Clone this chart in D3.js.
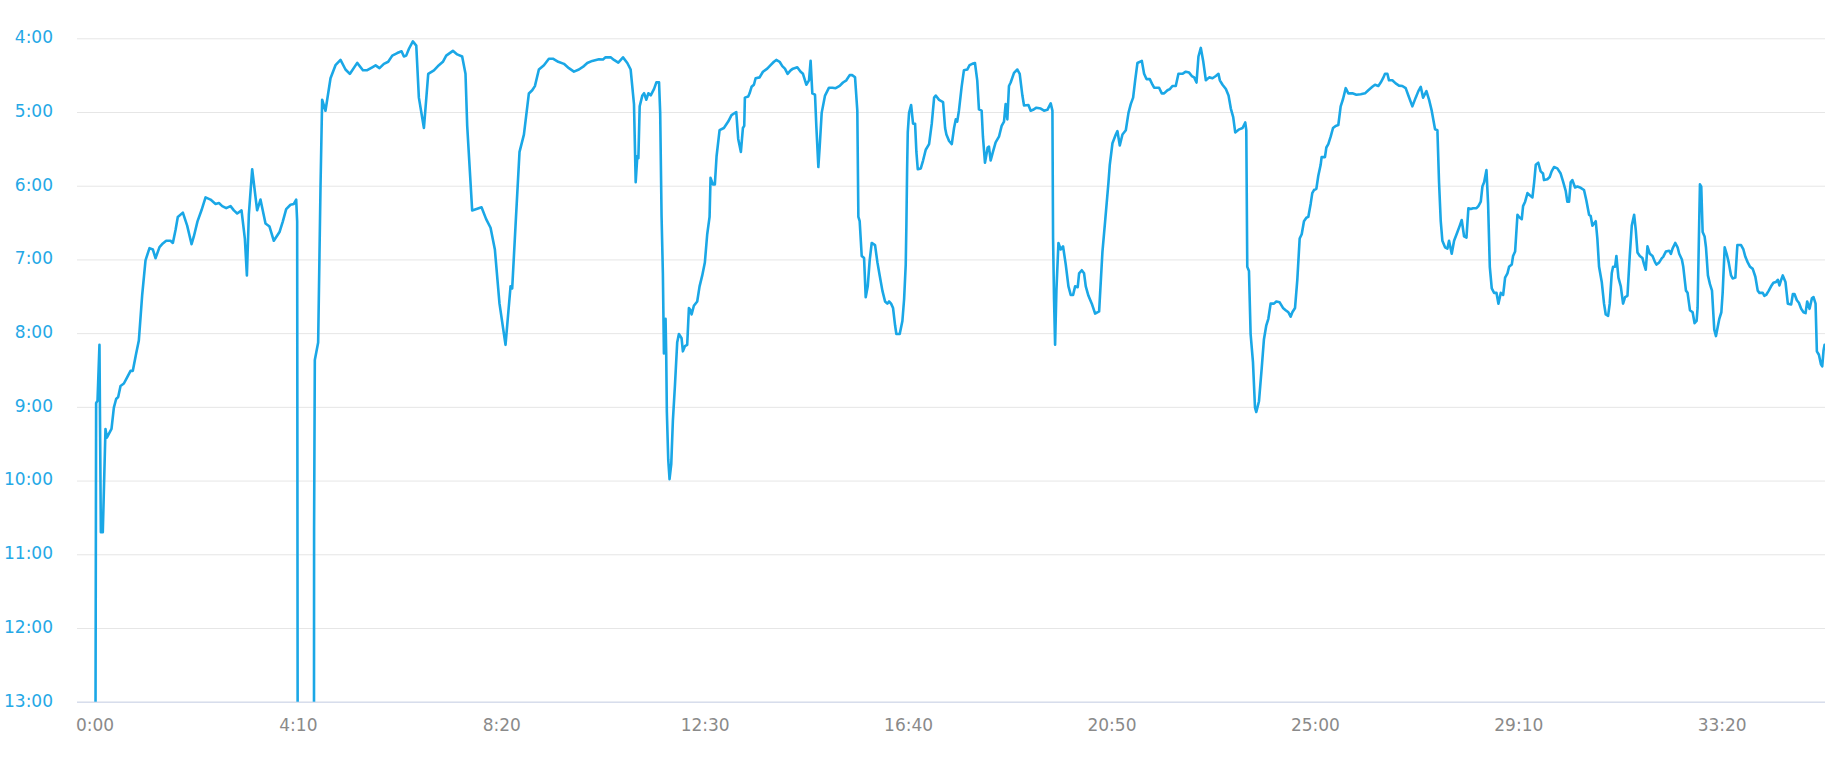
<!DOCTYPE html>
<html lang="en">
<head>
  <meta charset="UTF-8">
  <title>Pace</title>
  <script src="https://d3js.org/d3.v7.min.js"></script>
  <style>
    body {
      margin: 0;
      background: #fff;
    }
    svg text { font-family: "DejaVu Sans", Verdana, sans-serif; }
    .grid line { stroke: #e6e6e6; stroke-width: 1px; }
    .grid .domain { display: none; }
    .ylab text { fill: #25a8e6; font-size: 17px; }
    .xlab text { fill: #8a8a8a; font-size: 17px; }
    .xlab .domain { stroke: #ccd6eb; }
    .pace-line { fill: none; stroke: #1aa7e6; stroke-width: 2.6px; stroke-linejoin: round; }
  </style>
</head>
<body>
<div id="chart"></div>
<script>
  // elapsed time (s) and pace (s per km); 1200 = off the bottom of the chart
  const elapsed = [
    0, 2.0, 3.7, 6.1, 7.8, 10.2, 13.5, 15.2, 20.9, 23.8, 26.6, 29.1, 32.0, 36.1, 40.1, 44.3, 47.1, 51.2, 54.5, 58.6,
    62.7, 67.6, 71.7, 75.0, 79.9, 84.0, 88.1, 93.4, 96.3, 99.6, 102.4, 108.6, 113.9, 119.3, 122.1, 126.6, 131.5, 136.5, 142.6, 148.8,
    152.9, 157.0, 161.9, 167.2, 171.3, 175.4, 180.7, 184.8, 187.3, 189.7, 193.8, 199.9, 204.0, 210.2, 215.1, 220.4, 227.4, 231.5, 235.6, 240.9,
    245.0, 247.9, 249.1, 250.3, 269.5, 269.9, 270.8, 274.9, 277.8, 279.8, 283.9, 290.1, 296.2, 302.4, 308.5, 313.8, 322.9, 329.9, 335.2, 341.4,
    345.5, 350.3, 355.7, 361.0, 366.0, 372.1, 377.4, 380.3, 383.1, 386.5, 391.3, 395.5, 398.7, 404.9, 410.2, 417.2, 423.3, 428.2, 432.3, 440.5,
    445.8, 451.9, 456.0, 458.1, 464.2, 475.7, 481.4, 486.8, 492.1, 497.8, 505.2, 511.4, 513.4, 517.5, 522.4, 527.8, 533.9, 538.0, 541.3, 546.2,
    552.4, 558.5, 563.4, 570.0, 577.0, 583.1, 589.3, 595.4, 601.6, 605.7, 611.8, 620.0, 625.0, 628.2, 634.4, 638.5, 643.8, 649.6, 654.9, 659.0,
    663.1, 665.2, 667.2, 668.5, 670.1, 673.4, 675.5, 678.3, 680.8, 683.7, 687.8, 690.6, 693.9, 695.3, 697.0, 698.6, 699.9, 701.9, 702.7, 703.5,
    705.2, 706.8, 708.9, 710.9, 713.4, 716.2, 718.3, 721.6, 723.2, 725.7, 728.5, 730.6, 732.6, 733.9, 736.7, 740.8, 743.7, 747.0, 750.2, 753.1,
    756.0, 757.2, 760.1, 762.5, 764.6, 768.3, 773.6, 778.9, 783.0, 788.8, 791.2, 794.5, 797.0, 798.6, 799.4, 803.5, 805.2, 807.6, 810.5, 812.6,
    817.5, 821.6, 826.9, 831.0, 835.1, 838.0, 842.1, 845.4, 848.6, 851.9, 855.6, 858.5, 863.8, 867.9, 870.8, 874.9, 878.2, 880.2, 882.3, 885.6,
    887.2, 889.7, 891.3, 893.8, 897.9, 902.8, 906.9, 911.0, 915.9, 920.0, 924.1, 928.2, 931.5, 934.8, 937.6, 938.9, 940.5, 943.0, 945.9, 947.9,
    950.4, 952.8, 955.3, 959.4, 962.3, 965.1, 968.4, 971.7, 974.5, 976.6, 979.1, 981.5, 984.0, 985.6, 989.7, 993.0, 995.1, 997.1, 997.9, 998.8,
    999.6, 1001.2, 1003.7, 1006.1, 1008.6, 1010.2, 1011.9, 1015.6, 1018.4, 1021.7, 1025.8, 1029.1, 1032.0, 1034.0, 1038.1, 1043.0, 1045.5, 1047.1, 1050.4, 1053.7,
    1056.5, 1058.6, 1060.4, 1062.5, 1065.8, 1068.6, 1072.7, 1075.6, 1078.9, 1082.2, 1085.0, 1087.1, 1090.4, 1092.0, 1094.5, 1097.8, 1099.4, 1101.5, 1104.3, 1107.6,
    1111.7, 1115.0, 1117.9, 1119.9, 1122.0, 1124.0, 1126.1, 1130.2, 1134.3, 1137.2, 1140.5, 1142.5, 1147.9, 1150.7, 1153.6, 1157.7, 1163.0, 1167.1, 1171.2, 1175.3,
    1177.4, 1178.2, 1179.4, 1180.7, 1182.3, 1184.8, 1187.6, 1190.5, 1193.8, 1197.1, 1199.9, 1202.8, 1205.3, 1208.5, 1210.2, 1213.5, 1216.3, 1218.4, 1221.7, 1225.8,
    1229.9, 1234.8, 1238.9, 1242.2, 1246.3, 1247.9, 1251.2, 1255.3, 1257.3, 1260.2, 1263.5, 1267.6, 1270.9, 1273.7, 1276.6, 1279.1, 1281.9, 1287.3, 1290.1, 1293.0,
    1297.1, 1300.4, 1302.4, 1308.5, 1311.8, 1314.7, 1318.8, 1321.7, 1324.9, 1329.0, 1332.3, 1337.2, 1341.3, 1345.4, 1348.7, 1351.6, 1354.5, 1356.9, 1359.8, 1362.7,
    1366.0, 1370.1, 1374.2, 1378.3, 1381.5, 1383.2, 1386.5, 1390.6, 1393.9, 1396.7, 1399.6, 1402.1, 1407.0, 1411.1, 1414.4, 1415.7, 1416.9, 1419.0, 1421.0, 1423.9,
    1426.4, 1428.0, 1431.3, 1434.6, 1437.4, 1440.3, 1442.8, 1445.6, 1449.7, 1452.6, 1456.7, 1460.8, 1464.1, 1467.4, 1470.2, 1472.3, 1475.6, 1478.4, 1481.3, 1483.8,
    1486.6, 1489.5, 1491.9, 1494.8, 1496.8, 1498.9, 1501.8, 1504.2, 1507.1, 1508.3, 1512.4, 1514.1, 1516.5, 1519.4, 1522.3, 1525.5, 1528.8, 1531.7, 1534.6, 1537.9,
    1541.1, 1546.1, 1551.0, 1556.3, 1561.6, 1565.7, 1570.6, 1573.9, 1578.0, 1580.9, 1583.8, 1586.2, 1589.1, 1591.1, 1595.2, 1599.3, 1603.4, 1607.5, 1611.6, 1614.9,
    1619.8, 1623.9, 1627.2, 1630.1, 1633.0, 1637.1, 1640.4, 1643.6, 1647.7, 1650.6, 1652.6, 1654.7, 1656.7, 1660.0, 1662.9, 1664.9, 1668.2, 1671.1, 1675.2, 1678.1,
    1680.5, 1683.4, 1686.3, 1688.7, 1691.6, 1694.5, 1698.6, 1701.0, 1703.9, 1705.9, 1708.0, 1710.9, 1712.9, 1715.0, 1717.4, 1720.3, 1723.2, 1725.6, 1728.5, 1731.4,
    1733.8, 1736.7, 1738.7, 1742.0, 1743.6, 1746.1, 1749.0, 1751.0, 1754.3, 1755.9, 1758.4, 1761.3, 1764.1, 1767.4, 1769.5, 1771.5, 1774.6, 1777.5, 1780.4, 1781.6,
    1785.7, 1788.6, 1791.0, 1793.9, 1798.0, 1802.1, 1805.0, 1808.3, 1810.3, 1812.4, 1814.4, 1816.5, 1819.8, 1822.6, 1826.7, 1830.8, 1833.7, 1837.0, 1839.0, 1841.1,
    1843.1, 1845.2, 1847.2, 1849.3, 1852.6, 1855.4, 1857.5, 1860.4, 1862.4, 1864.9, 1866.5, 1869.0, 1870.6, 1873.1, 1876.0, 1878.8, 1881.3, 1884.2, 1887.0, 1889.5,
    1892.4, 1894.4, 1896.5, 1899.4, 1902.6, 1904.7, 1906.7, 1908.8, 1911.7, 1915.0, 1918.2, 1919.9, 1923.2, 1926.5, 1928.1, 1931.4, 1935.5, 1937.6, 1939.6, 1942.9,
    1945.8, 1947.8, 1951.1, 1952.8, 1956.1, 1958.1, 1961.0, 1964.3, 1966.7, 1969.2, 1970.4, 1972.5, 1973.3, 1974.9, 1976.6, 1979.0, 1980.7, 1983.1, 1985.6, 1988.1,
    1990.9, 1993.0, 1995.0, 1997.1, 1999.6, 2001.2, 2003.7, 2006.1, 2008.6, 2011.5, 2013.5, 2016.8, 2019.3, 2023.8, 2026.7, 2029.1, 2032.0, 2034.9, 2038.2, 2041.4,
    2044.3, 2046.4, 2050.5, 2052.5, 2054.6, 2057.9, 2060.7, 2063.6, 2066.9, 2069.0, 2071.0, 2073.1, 2075.1, 2078.4, 2081.3, 2085.4, 2087.5, 2089.5, 2092.4, 2094.9,
    2097.7, 2100.6, 2103.1, 2105.1, 2108.0, 2110.9, 2112.9, 2115.4, 2117.0, 2119.5, 2122.0, 2123.6, 2125.2, 2126.5, 2128.5
  ];
  const pace = [
    1200, 537, 535, 489.5, 642, 642, 558, 565, 558, 540.6, 533.6, 532, 523, 521, 516, 510.7, 510.7, 496.6, 486, 449,
    420.7, 410.8, 411.9, 419, 410, 407, 404.8, 404.8, 406.6, 396, 385.4, 381.9, 392.5, 407.6, 401.3, 389, 380, 369.5, 371.3, 374.8,
    374.1, 376.6, 378.3, 376.6, 380.1, 382.6, 380.1, 403, 433, 383.6, 346.6, 380, 371.3, 390.7, 393.2, 404.8, 397.7, 389, 379, 375.5,
    374.8, 371.3, 389, 1200, 1200, 639.5, 501.8, 487.7, 360.7, 290, 299, 272.5, 261.9, 257.6, 265.4, 269, 260, 266, 266, 263.6,
    262, 264.3, 260.8, 259.1, 254.1, 252, 250.6, 254.8, 254.1, 248.5, 242.5, 246, 288.3, 313, 269, 266.1, 261.9, 259.1, 254.1, 250.2,
    253.1, 254.8, 268.8, 311.3, 380.1, 377.6, 387.2, 394.2, 411.9, 456, 489.5, 441.8, 443.6, 392.5, 332.5, 318.4, 284.9, 282.3, 278.9, 265.4,
    261.9, 256.6, 256.6, 259.1, 260.8, 264.3, 267.1, 265.4, 262.6, 260.1, 258.4, 257, 257.3, 255.5, 255.5, 257.6, 259.8, 255.5, 260.1, 265.4,
    293.6, 357.1, 335.9, 337.6, 295.3, 286.5, 284.7, 290, 284.7, 286.5, 281.2, 275.9, 275.9, 300.7, 385, 431.3, 496.6, 468.3, 496.6, 544.2,
    583, 598.9, 586.5, 551.3, 523, 487.7, 480.7, 484.2, 494.8, 490.6, 489.5, 459.5, 461.3, 464.8, 457.7, 454.2, 441.9, 433, 422.5, 399.5,
    385.4, 353.6, 358.9, 358.9, 336, 314.8, 313, 307.8, 302.5, 300, 321.9, 332.5, 313, 311.3, 288.3, 287.3, 284.8, 279.5, 277.8, 272.5,
    271.8, 267.2, 264.7, 261.9, 259.1, 257.6, 259.1, 262.6, 264.7, 268.9, 266.1, 264.7, 263.6, 267.2, 268.9, 277.8, 274.2, 258.4, 284.8, 285.9,
    311.3, 344.8, 328.9, 300.7, 286.6, 280.2, 280.2, 280.6, 278.8, 276, 274.2, 270, 270, 271.8, 298.9, 385.4, 388.9, 417.2, 418.9, 450.7,
    441.9, 420.7, 406.6, 408.3, 422.4, 433, 445.4, 454.2, 456, 454.2, 456, 459.5, 473.6, 480.7, 480.7, 470.1, 452.4, 424.2, 392.5, 346.6,
    316.6, 300.7, 294.3, 309.5, 309.5, 332.5, 346.6, 345.9, 339.5, 330.7, 326.1, 309.5, 288.3, 286.6, 290.1, 291.9, 313, 318.3, 323.6, 326.1,
    313, 306, 307.8, 298.9, 279.5, 266.1, 265.4, 261.9, 260.8, 260.1, 274.2, 297.9, 298.9, 320.1, 341.3, 328.9, 328.2, 339.5, 332.5, 324.7,
    320.1, 311.3, 307.8, 293.6, 306, 278.8, 276, 268.2, 265.4, 268.9, 286.6, 294.7, 294.3, 298.9, 298.2, 296.5, 297.2, 298.9, 298.2, 292.9,
    298.9, 403, 452.4, 489.5, 445.4, 406.6, 411.9, 409.4, 424.2, 441.9, 448.9, 448.9, 441.9, 442.6, 431.3, 428.8, 431.3, 441.9, 449.6, 456,
    464.1, 462.3, 413.6, 388.9, 357.2, 343, 325.4, 318.3, 315.5, 327.2, 318.3, 314.8, 300.7, 293.6, 288.3, 274.2, 260.1, 258.4, 268.9, 273.2,
    273.2, 277.8, 280.2, 280.2, 284.8, 284.8, 282.3, 281.3, 278.8, 278.8, 268.9, 268.9, 267.2, 267.9, 270.7, 271.8, 276, 254.8, 247.8, 258.4,
    274.2, 271.8, 272.5, 270.7, 268.9, 274.2, 277.8, 281.3, 286.6, 297.2, 304.2, 316.6, 314.1, 313, 308.5, 314.8, 426, 429.5, 480.7, 503.6,
    540.7, 544.2, 535.4, 508.9, 484.9, 473.6, 468.3, 456, 456, 454.2, 454.9, 459.5, 461.3, 463, 466.6, 463, 459.5, 436.6, 403, 399.5,
    388.9, 386.1, 385.4, 374.8, 366, 363.5, 362.5, 351.9, 343, 336.7, 336.7, 328.9, 326.1, 320.1, 313, 311.3, 310.6, 295.4, 289.4, 280.6,
    284.8, 284.8, 285.9, 285.5, 284.8, 282.3, 279.5, 277.8, 278.8, 276, 272.5, 268.9, 268.9, 274.2, 274.2, 276.7, 278.5, 278.8, 280.6, 286.6,
    295.4, 288.3, 283, 279.5, 288.3, 283, 290.1, 298.9, 314.1, 314.8, 357.2, 388.9, 404.8, 410.1, 411.2, 404.8, 415.4, 404.8, 397.7, 392.5,
    387.9, 401.3, 402.3, 378.3, 379, 378.3, 378.3, 376.6, 373, 360.7, 357.2, 347.3, 374.8, 426, 443.6, 447.2, 447.2, 456, 447.2, 448.9,
    434.8, 431.3, 426, 424.2, 417.2, 413.6, 383.6, 385.4, 387.2, 376.6, 373, 366, 367.8, 369.5, 357.2, 343, 341.3, 348.3, 350.1, 355.4,
    354.7, 352.9, 348.3, 344.8, 345.9, 350.1, 356.5, 364.2, 373, 373, 357.2, 355.4, 361.4, 360.7, 361.7, 363.5, 372, 383.6, 384.7, 392.5,
    390.7, 388.9, 403, 426, 438.3, 456, 464.8, 465.9, 456, 431.3, 426, 426, 417.2, 434.8, 441.9, 456, 450.7, 449.6, 417.2, 392.5,
    383.6, 396, 414.3, 417.2, 418.9, 424.2, 428.4, 409.4, 415.4, 417.2, 422.4, 424.2, 422.4, 418.9, 417.9, 413.6, 412.9, 415.4, 411.2, 406.6,
    410.1, 415.4, 420, 426, 445.4, 447.2, 461.3, 463, 471.9, 470.1, 459.5, 385.4, 358.9, 360.7, 397.7, 401.3, 410.1, 433, 440.1, 445.4,
    477.1, 482.4, 475.4, 468.3, 463, 447.2, 410.1, 415.4, 422.4, 433, 435.5, 434.8, 408.3, 408.3, 411.9, 417.9, 422.4, 426, 427.7, 434.1,
    445.4, 447.2, 447.2, 449.6, 448.9, 445.4, 441.9, 439, 438.3, 436.6, 441.2, 436.6, 433, 438.3, 456, 456.7, 448.2, 448.2, 453.2, 455.3,
    460.2, 463, 463.7, 454.2, 460.2, 451.7, 450.7, 456, 494.8, 497.6, 505.4, 507.1, 494.1, 489.5, 489.5
  ];
  const paceTicks = [240, 300, 360, 420, 480, 540, 600, 660, 720, 780];
  const timeTicks = [0, 250, 500, 750, 1000, 1250, 1500, 1750, 2000];

  const width = 1848, height = 765;
  const plotLeft = 77, plotRight = 1825, plotTop = 38.3, plotBottom = 701.7;

  const fmt = s => Math.floor(s / 60) + ":" + String(Math.round(s % 60)).padStart(2, "0");

  const svg = d3.select("#chart").append("svg")
    .attr("width", width)
    .attr("height", height);

  const x = d3.scaleLinear().domain([0, 2127]).range([94.5, plotRight]);
  const y = d3.scaleLinear().domain([240, 780]).range([plotTop, plotBottom]);

  // horizontal grid + pace labels
  const yAxis = svg.append("g")
    .attr("class", "grid ylab")
    .attr("transform", `translate(${plotLeft},0)`)
    .call(d3.axisLeft(y).tickValues(paceTicks).tickFormat(fmt)
      .tickSize(-(plotRight - plotLeft)).tickPadding(24));
  yAxis.selectAll("text").attr("dy", "0.26em");

  // time axis
  const xAxis = svg.append("g")
    .attr("class", "xlab")
    .attr("transform", `translate(0,${plotBottom})`)
    .call(d3.axisBottom(x).tickValues(timeTicks).tickFormat(fmt)
      .tickSize(0).tickPadding(17));
  xAxis.select(".domain").attr("d", `M${plotLeft},0.5H${plotRight}`);

  svg.append("clipPath").attr("id", "plot-clip")
    .append("rect")
    .attr("x", plotLeft).attr("y", plotTop - 5)
    .attr("width", plotRight - plotLeft).attr("height", plotBottom - plotTop + 5);

  const points = elapsed.map((t, i) => [t, pace[i]]);

  svg.append("path")
    .datum(points)
    .attr("class", "pace-line")
    .attr("clip-path", "url(#plot-clip)")
    .attr("d", d3.line().x(d => x(d[0])).y(d => y(d[1])));
</script>
</body>
</html>
